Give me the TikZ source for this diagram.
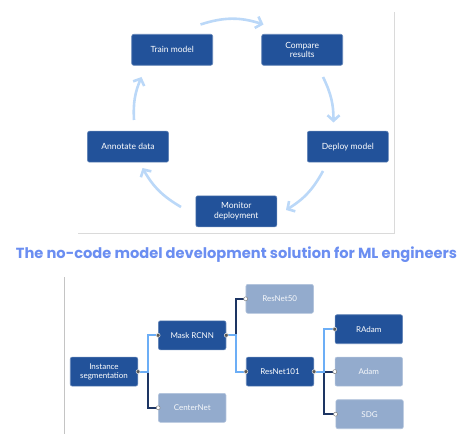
\documentclass[tikz,border=0pt]{standalone}
\usepackage{fontspec}
\setmainfont{Lato}
\newfontfamily\titlefont{Poppins}
\usetikzlibrary{arrows.meta}
\definecolor{boxdark}{HTML}{22529A}
\definecolor{boxlight}{HTML}{93ABCD}
\definecolor{cyc}{HTML}{BBD8F8}
\definecolor{linklight}{HTML}{6CAEF6}
\definecolor{linkdark}{HTML}{1D3563}
\definecolor{titleblue}{HTML}{6B8EF1}
\definecolor{framegray}{HTML}{DADADA}
\tikzset{
  cbox/.style={draw=boxdark!70!white, line width=0.6pt, fill=boxdark, rounded corners=2pt,
    minimum width=81pt, minimum height=31pt, text=white, align=center,
    font=\fontsize{8.5}{9.5}\selectfont, inner sep=1pt},
  tdark/.style={draw=boxdark!70!white, line width=0.6pt, fill=boxdark, rounded corners=2pt,
    minimum width=67.5pt, minimum height=29pt, text=white, align=center,
    font=\fontsize{8}{9}\selectfont, inner sep=1pt},
  tlight/.style={tdark, fill=boxlight, draw=boxlight!70!white, text=white!92!boxlight},
  cycarrow/.style={draw=cyc, line width=2.6pt, -{Straight Barb[length=5.5pt,width=12pt]}},
  lnk/.style={line width=2pt},
  jdark/.style={circle, fill=gray!70!black, draw=white!80!gray, line width=0.5pt, inner sep=0pt, minimum size=4pt},
  jlight/.style={circle, fill=white, draw=gray, line width=0.5pt, inner sep=0pt, minimum size=4pt},
}
\begin{document}
\begin{tikzpicture}[x=1pt,y=-1pt]
\useasboundingbox (0,0) rectangle (470,446);
% frame of top panel
\draw[framegray, line width=0.8pt] (78,233) coordinate (fa) -- (394,233) coordinate (fb) -- (394,12) coordinate (fc);
% cycle boxes
\node[cbox] (train) at (172.2,49.8) {Train model};
\node[cbox] (compare) at (302.2,49.8) {Compare\\results};
\node[cbox] (deploy) at (347.8,146.7) {Deploy model};
\node[cbox] (annot) at (128,146.7) {Annotate data};
\node[cbox] (monitor) at (236.3,211.3) {Monitor\\deployment};
% cycle arrow end points
\coordinate (a1) at (200.5,24.5);
\coordinate (a2) at (263.5,24.5);
\coordinate (b1) at (323,77);
\coordinate (b2) at (333.5,122.5);
\coordinate (c1) at (323,171);
\coordinate (c2) at (286,210);
\coordinate (d1) at (181,207);
\coordinate (d2) at (142.5,168);
\coordinate (e1) at (134,120);
\coordinate (e2) at (141.5,77);
\draw[cycarrow] (a1) to[bend left=18] (a2);
\draw[cycarrow] (b1) to[bend left=13] (b2);
\draw[cycarrow] (c1) to[bend left=15] (c2);
\draw[cycarrow] (d1) to[bend left=15] (d2);
\draw[cycarrow] (e1) to[bend left=13] (e2);
% title
\node[text=titleblue, inner sep=0pt, anchor=base] (title) at (236.5,258) {\resizebox{441pt}{!}{\titlefont\bfseries The no-code model development solution for ML engineers}};
% lower panel
\draw[framegray!90!black, line width=0.8pt] (64,277) coordinate (ga) -- (64,434) coordinate (gb);
\node[tdark] (inst) at (104,371.6) {Instance\\segmentation};
\node[tdark] (mask) at (192.2,335.3) {Mask RCNN};
\node[tlight] (center) at (192.2,407.8) {CenterNet};
\node[tlight] (r50) at (279.7,298.8) {ResNet50};
\node[tdark] (r101) at (280,371.6) {ResNet101};
\node[tdark] (radam) at (368.8,329.2) {RAdam};
\node[tlight] (adam) at (368.8,371.6) {Adam};
\node[tlight] (sdg) at (369.6,414.2) {SDG};
% connectors
\coordinate (j1) at (147.5,371.6);
\coordinate (j2) at (235.5,335.3);
\coordinate (j3) at (324,371.6);
\draw[lnk, linkdark] (j1) |- (center.west);
\draw[lnk, linkdark] (j2) |- (r50.west);
\draw[lnk, linkdark] (j3) |- (sdg.west);
\draw[lnk, linkdark] (j3) -- (adam.west);
\draw[lnk, linklight] (inst.east) -- (j1) |- (mask.west);
\draw[lnk, linklight] (mask.east) -- (j2) |- (r101.west);
\draw[lnk, linklight] (r101.east) -- (j3) |- (radam.west);
% joint dots
\node[jdark] at (inst.east) {};
\node[jdark] at (mask.west) {};
\node[jdark] at (mask.east) {};
\node[jlight] at (center.west) {};
\node[jlight] at (r50.west) {};
\node[jdark] at (r101.west) {};
\node[jdark] at (r101.east) {};
\node[jdark] at (radam.west) {};
\node[jlight] at (adam.west) {};
\node[jlight] at (sdg.west) {};
\end{tikzpicture}
\end{document}
